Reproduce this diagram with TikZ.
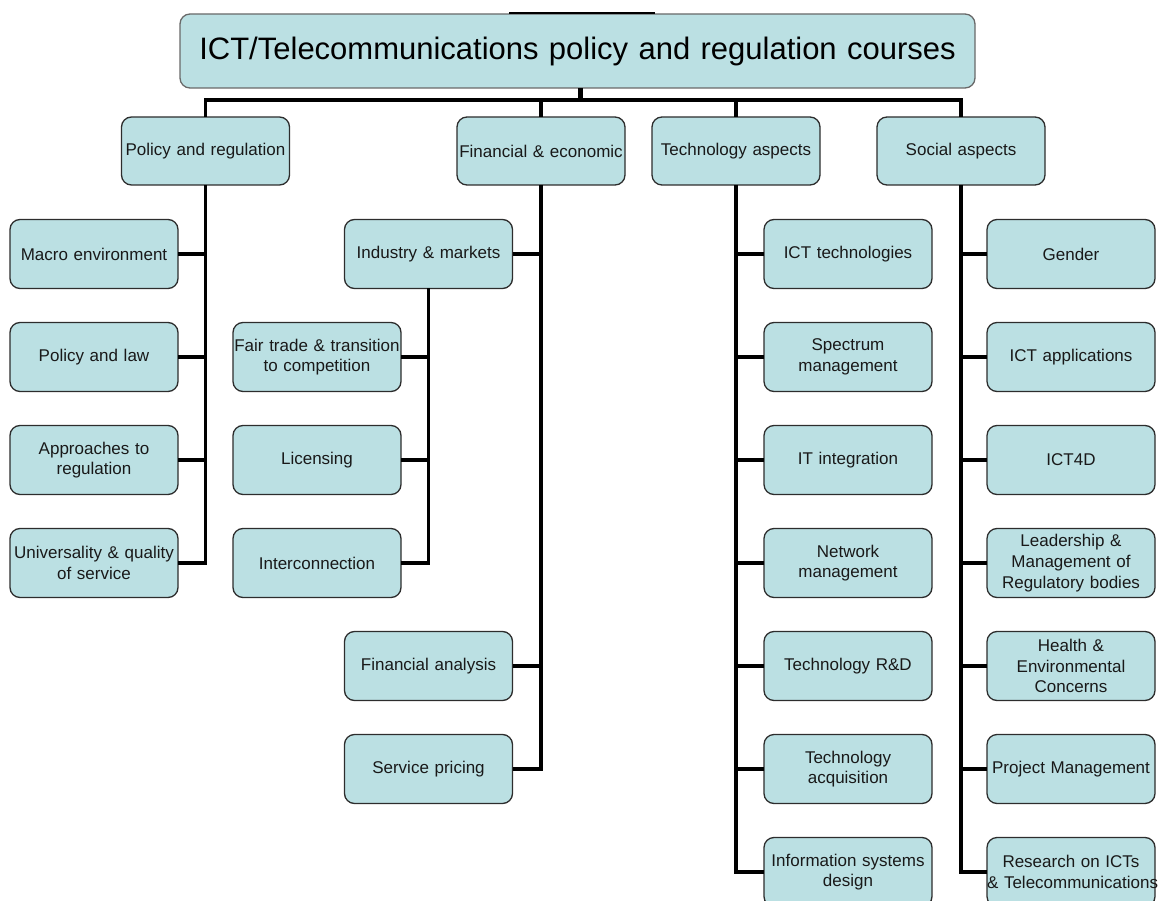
\documentclass[tikz,border=0pt]{standalone}
\usepackage{fontspec}
\setmainfont{Liberation Sans}
\usetikzlibrary{positioning}

\definecolor{boxfill}{RGB}{187,224,227}
\definecolor{boxline}{RGB}{45,45,45}
\definecolor{rootline}{RGB}{105,105,105}

\tikzset{
  course/.style={draw=boxline, line width=1.3pt, fill=boxfill, rounded corners=10pt,
    text width=168pt, minimum height=69pt, inner xsep=0pt, inner ysep=0pt, outer sep=0pt,
    align=center, text=black!90, font=\fontsize{17}{20.7}\selectfont},
  area/.style={course, minimum height=68pt},
  link/.style={line width=3.6pt, line join=miter}
}

\begin{document}
\begin{tikzpicture}[x=1pt, y=-1pt]
    \useasboundingbox (0,0) rectangle (1159,901);

    % title and the four areas
    \node[course, draw=rootline, text width=795pt, minimum height=74pt,
          font=\fontsize{31}{36}\selectfont, text=black] (root) at (577.5,51)
          {ICT/Telecommunications policy and regulation courses};
    \draw[line width=1.6pt] (509,13) -- (655,13);

    \node[area] (policy) at (205.5,151) {Policy and regulation};
    \node[area] (finance) at (541,151) {Financial \& economic};
    \node[area] (tech) at (736,151) {Technology aspects};
    \node[area] (social) at (961,151) {Social aspects};

    % policy and regulation
    \node[course] (macro) at (94,254) {Macro environment};
    \node[course, below=34pt of macro] (law) {Policy and law};
    \node[course, below=34pt of law] (approach) {Approaches to\\regulation};
    \node[course, below=34pt of approach] (universal) {Universality \& quality\\of service};

    % financial & economic
    \node[course] (industry) at (428.5,254) {Industry \& markets};
    \node[course] (fairtrade) at (317,357) {Fair trade \& transition\\to competition};
    \node[course, below=34pt of fairtrade] (licensing) {Licensing};
    \node[course, below=34pt of licensing] (interconn) {Interconnection};
    \node[course] (analysis) at (428.5,666) {Financial analysis};
    \node[course, below=34pt of analysis] (pricing) {Service pricing};

    % technology aspects
    \node[course] (icttech) at (848,254) {ICT technologies};
    \node[course, below=34pt of icttech] (spectrum) {Spectrum\\management};
    \node[course, below=34pt of spectrum] (itint) {IT integration};
    \node[course, below=34pt of itint] (network) {Network\\management};
    \node[course, below=34pt of network] (rnd) {Technology R\&D};
    \node[course, below=34pt of rnd] (acquire) {Technology\\acquisition};
    \node[course, below=34pt of acquire] (infosys) {Information systems\\design};

    % social aspects
    \node[course] (gender) at (1071,254) {Gender};
    \node[course, below=34pt of gender] (ictapps) {ICT applications};
    \node[course, below=34pt of ictapps] (ict4d) {ICT4D};
    \node[course, below=34pt of ict4d] (leader) {Leadership \&\\Management of\\Regulatory bodies};
    \node[course, below=34pt of leader] (health) {Health \&\\Environmental\\Concerns};
    \node[course, below=34pt of health] (project) {Project Management};
    \node[course, below=34pt of project] (research) {Research on ICTs\\\mbox{\& Telecommunications}};

    % top level bus
    \coordinate (bus) at (580,100);
    \draw[link, line width=5pt] (root.south -| bus) -- (bus);
    \draw[link] (policy.north) -- (policy.north |- bus) -- (social.north |- bus) -- (social.north);
    \draw[link] (finance.north) -- (finance.north |- bus);
    \draw[link] (tech.north) -- (tech.north |- bus);

    % trunks and branches
    \draw[link] (policy.south) |- (universal.east);
    \draw[link] (macro.east) -- (macro.east -| policy.south);
    \draw[link] (law.east) -- (law.east -| policy.south);
    \draw[link] (approach.east) -- (approach.east -| policy.south);

    \draw[link] (finance.south) |- (pricing.east);
    \draw[link] (industry.east) -- (industry.east -| finance.south);
    \draw[link] (analysis.east) -- (analysis.east -| finance.south);
    \draw[link] (industry.south) |- (interconn.east);
    \draw[link] (fairtrade.east) -- (fairtrade.east -| industry.south);
    \draw[link] (licensing.east) -- (licensing.east -| industry.south);

    \draw[link] (tech.south) |- (infosys.west);
    \draw[link] (icttech.west) -- (icttech.west -| tech.south);
    \draw[link] (spectrum.west) -- (spectrum.west -| tech.south);
    \draw[link] (itint.west) -- (itint.west -| tech.south);
    \draw[link] (network.west) -- (network.west -| tech.south);
    \draw[link] (rnd.west) -- (rnd.west -| tech.south);
    \draw[link] (acquire.west) -- (acquire.west -| tech.south);

    \draw[link] (social.south) |- (research.west);
    \draw[link] (gender.west) -- (gender.west -| social.south);
    \draw[link] (ictapps.west) -- (ictapps.west -| social.south);
    \draw[link] (ict4d.west) -- (ict4d.west -| social.south);
    \draw[link] (leader.west) -- (leader.west -| social.south);
    \draw[link] (health.west) -- (health.west -| social.south);
    \draw[link] (project.west) -- (project.west -| social.south);
\end{tikzpicture}
\end{document}
